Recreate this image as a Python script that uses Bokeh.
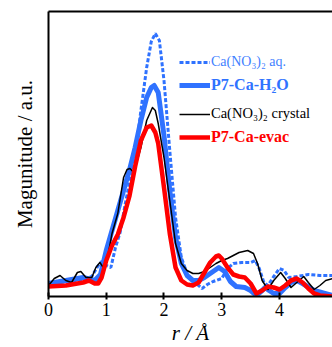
from bokeh.plotting import figure
from bokeh.models import (Range1d, LinearAxis, FixedTicker, Legend, LegendItem)
from bokeh.embed import file_html
from bokeh.resources import INLINE

# ---- data (magnitude in arbitrary units) ----
r_aq = [0, 0.2, 0.4, 0.6, 0.75, 0.85, 0.92, 1.0, 1.08, 1.16, 1.24, 1.33, 1.42, 1.5, 1.6,
        1.7, 1.78, 1.85, 1.92, 2.0, 2.1, 2.2, 2.3, 2.4, 2.5, 2.6, 2.66, 2.75, 2.85, 3.0,
        3.1, 3.2, 3.35, 3.5, 3.58, 3.65, 3.73, 3.8, 3.9, 4.0, 4.08, 4.16, 4.3, 4.5, 4.7, 4.92]
m_aq = [13, 14, 15, 17, 20, 30, 35, 31, 29, 49, 64, 93, 119, 139, 186,
        229, 255, 263, 256, 216, 146, 79, 39, 23, 16, 11, 8, 12, 15, 18,
        28, 33, 34, 34, 36, 28, 14, 11, 20, 28, 26, 19, 20, 22, 21, 21]

r_h2o = [0, 0.3, 0.6, 0.8, 0.9, 1.0, 1.1, 1.2, 1.3, 1.4, 1.5, 1.6, 1.7, 1.78, 1.83,
         1.9, 2.0, 2.1, 2.2, 2.3, 2.4, 2.5, 2.6, 2.7, 2.8, 2.95, 3.05, 3.15, 3.25, 3.4,
         3.5, 3.6, 3.7, 3.75, 3.82, 3.9, 4.0, 4.1, 4.2, 4.3, 4.4, 4.6, 4.92]
m_h2o = [13, 16, 19, 16, 22, 46, 66, 86, 106, 126, 149, 176, 199, 209, 211,
         204, 161, 106, 59, 33, 21, 16, 16, 19, 23, 29, 25, 15, 10, 9,
         6, 1, 6, 9, 6, 3, 3, 9, 14, 16, 13, 6, 1]

r_cry = [0, 0.1, 0.2, 0.3, 0.4, 0.5, 0.56, 0.65, 0.75, 0.82, 0.89, 0.96, 1.02, 1.1, 1.2,
         1.3, 1.36, 1.41, 1.46, 1.5, 1.6, 1.7, 1.8, 1.85, 1.9, 2.0, 2.1, 2.2, 2.3, 2.4,
         2.5, 2.6, 2.7, 2.8, 2.9, 3.0, 3.1, 3.2, 3.3, 3.45, 3.55, 3.62, 3.7, 3.8, 3.9,
         4.02, 4.1, 4.2, 4.3, 4.42, 4.5, 4.6, 4.7, 4.8, 4.92]
m_cry = [11, 18, 21, 16, 14, 24, 25, 19, 19, 29, 34, 28, 38, 63, 83,
         119, 127, 128, 125, 128, 149, 176, 189, 186, 173, 139, 96, 53, 33, 26,
         23, 23, 25, 29, 33, 36, 38, 41, 44, 46, 43, 33, 16, 7, 16,
         24, 18, 9, 14, 20, 14, 7, 11, 16, 18]

r_evac = [0, 0.3, 0.5, 0.6, 0.7, 0.8, 0.86, 0.92, 1.0, 1.1, 1.2, 1.3, 1.4, 1.5, 1.6,
          1.7, 1.78, 1.85, 1.9, 2.0, 2.1, 2.2, 2.3, 2.4, 2.5, 2.6, 2.7, 2.8, 2.9, 2.95,
          3.0, 3.1, 3.2, 3.3, 3.4, 3.5, 3.6, 3.7, 3.8, 3.9, 4.0, 4.1, 4.2, 4.3, 4.4,
          4.5, 4.6, 4.7, 4.92]
m_evac = [10, 11, 13, 14, 16, 13, 13, 19, 36, 51, 62, 79, 100, 130, 156,
          169, 171, 164, 153, 109, 63, 29, 16, 12, 11, 14, 24, 34, 40, 41,
          38, 29, 22, 20, 19, 13, 3, 6, 10, 9, 7, 11, 16, 18, 14,
          8, 3, 1, 0]

x_ticks = [0, 1, 2, 3, 4]
labels = ["Ca(NO\u2083)\u2082 aq.", "P7-Ca-H\u2082O", "Ca(NO\u2083)\u2082 crystal", "P7-Ca-evac"]
y_title = "Magunitude / a.u."
x_title = "r / \u00c5"

BLUE = "#2f72ff"
RED = "#ff0000"
FONT = "Liberation Serif"

p = figure(width=332, height=347, output_backend="svg", toolbar_location=None,
           x_range=Range1d(0, 4.918), y_range=Range1d(0, 285),
           x_axis_location="below", y_axis_location="left",
           min_border_left=48, min_border_right=0, min_border_top=11, min_border_bottom=51)
p.grid.visible = False
p.outline_line_color = None
p.background_fill_color = "white"
p.border_fill_color = "white"

r1 = p.line(r_aq, m_aq, line_color=BLUE, line_width=3, line_dash="4 2")
r2 = p.line(r_h2o, m_h2o, line_color=BLUE, line_width=5, line_join="round")
r3 = p.line(r_cry, m_cry, line_color="black", line_width=1.5, line_join="round")
r4 = p.line(r_evac, m_evac, line_color=RED, line_width=4.5, line_join="round")

# x axis
xa = p.xaxis[0]
xa.ticker = FixedTicker(ticks=x_ticks)
xa.axis_line_width = 2
xa.major_tick_line_width = 2
xa.major_tick_in = 4
xa.major_tick_out = 3
xa.minor_tick_line_color = None
xa.major_label_text_font = FONT
xa.major_label_text_font_size = "18px"
xa.major_label_text_color = "black"
xa.major_label_standoff = 3
xa.axis_label = x_title
xa.axis_label_text_font = FONT
xa.axis_label_text_font_style = "italic"
xa.axis_label_text_font_size = "21px"
xa.axis_label_text_color = "black"
xa.axis_label_standoff = 2

# y axis
ya = p.yaxis[0]
ya.ticker = FixedTicker(ticks=[])
ya.axis_line_width = 2
ya.major_tick_line_color = None
ya.minor_tick_line_color = None
ya.axis_label = y_title
ya.axis_label_text_font = FONT
ya.axis_label_text_font_style = "normal"
ya.axis_label_text_font_size = "21px"
ya.axis_label_text_color = "black"
ya.axis_label_standoff = 12

top = LinearAxis(ticker=FixedTicker(ticks=[]), axis_line_width=2,
                 major_tick_line_color=None, minor_tick_line_color=None)
p.add_layout(top, "above")

# legends, one per entry so each can have its own text style
specs = [
    (r1, labels[0], "#3f7fff", "normal", "14px", 226),
    (r2, labels[1], BLUE, "bold", "16px", 202),
    (r3, labels[2], "black", "normal", "14.5px", 174),
    (r4, labels[3], RED, "bold", "16px", 150),
]
for rend, lab, col, style, size, ybot in specs:
    lg = Legend(items=[LegendItem(label=lab, renderers=[rend])],
                location=(131, ybot), orientation="vertical",
                glyph_width=31, glyph_height=16, label_height=16,
                label_standoff=1, padding=0, margin=0, spacing=0,
                label_text_font=FONT, label_text_font_style=style,
                label_text_font_size=size, label_text_color=col,
                background_fill_alpha=0, border_line_color=None)
    p.add_layout(lg, "center")

open("out.html", "w").write(file_html(p, INLINE))
